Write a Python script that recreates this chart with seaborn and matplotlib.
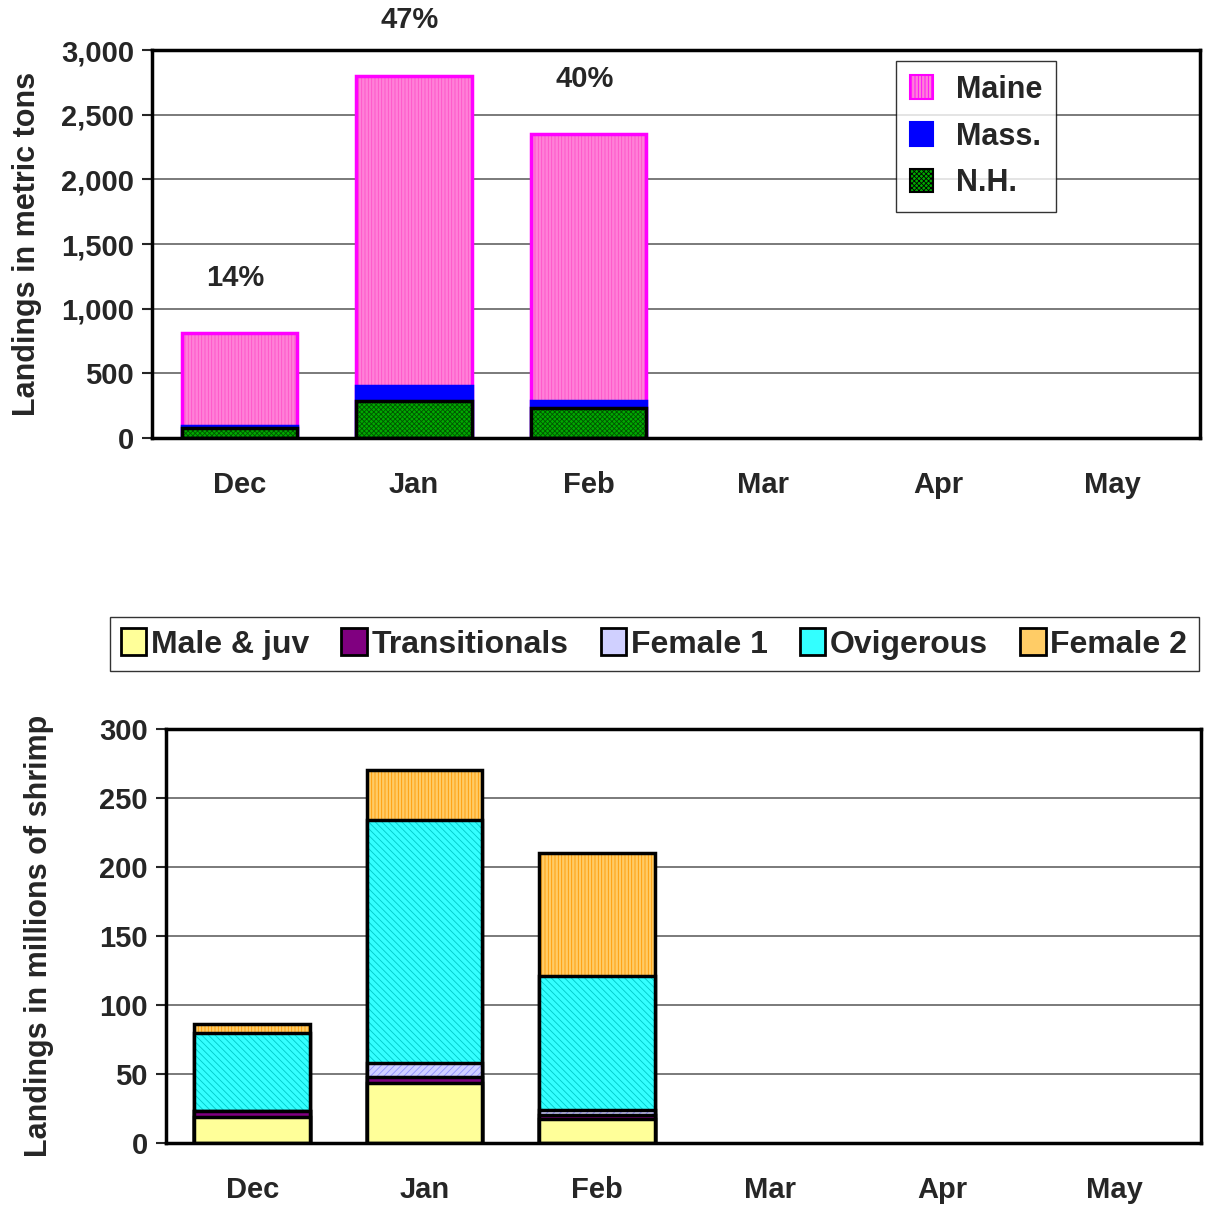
import numpy as np
import matplotlib
matplotlib.use('Agg')
import matplotlib.pyplot as plt
from matplotlib.patches import Patch
from matplotlib.ticker import StrMethodFormatter
import seaborn as sns

months = ['Dec', 'Jan', 'Feb', 'Mar', 'Apr', 'May']
landed = ['Dec', 'Jan', 'Feb']

# landings by state (metric tons), bottom to top of each stack
nh = [75, 290, 230]
mass = [20, 110, 60]
maine = [715, 2400, 2060]
state_names = ['N.H.', 'Mass.', 'Maine']
pct_labels = ['14%', '47%', '40%']

# landings by stage (millions of shrimp), bottom to top
male_juv = [19, 43.5, 17.5]
transitionals = [4, 4.5, 3]
female1 = [0.5, 10, 3.5]
ovigerous = [56, 176, 97]
female2 = [6.5, 36, 89]
stage_names = ['Male & juv', 'Transitionals', 'Female 1', 'Ovigerous', 'Female 2']

# (face, hatch colour, hatch, outline)
state_styles = [('#00AA00', '#005500', 'xxxxxxx', 'black'),
                ('#0000FF', '#0000FF', None, '#0000FF'),
                ('#FF80D8', '#FF50C8', '|||||', '#FF00FF')]
stage_styles = [('#FFFF99', '#FFFF99', None, 'black'),
                ('#800080', '#800080', None, 'black'),
                ('#D0D0FF', '#9090FF', '/////', 'black'),
                ('#33FFFF', '#00C8C8', '\\\\\\\\\\', 'black'),
                ('#FFCC66', '#FF9900', '|||||', 'black')]

sns.set_style('white')
plt.rcParams['font.family'] = ['Liberation Sans', 'DejaVu Sans']
plt.rcParams['font.weight'] = 'bold'
plt.rcParams['hatch.linewidth'] = 0.6


def stacked(ax, series, styles, width):
    tops = np.cumsum(np.array(series, dtype=float), axis=0)
    for i in reversed(range(len(series))):
        face, hcol, hatch, edge = styles[i]
        sns.barplot(x=landed, y=tops[i], order=months, color=face, saturation=1,
                    width=width, errorbar=None, hatch=hatch, edgecolor=hcol,
                    linewidth=0, ax=ax)
        sns.barplot(x=landed, y=tops[i], order=months, color=edge, fill=False,
                    saturation=1, width=width, errorbar=None, linewidth=2.5, ax=ax)
    return tops[-1]


def style_axes(ax, ylabel, step, top, label_x):
    ax.set_ylim(0, top)
    ax.set_xlim(-0.5, 5.5)
    ax.set_yticks(np.arange(0, top + 1, step))
    ax.yaxis.grid(True, color='#707070', linewidth=1.3)
    ax.set_axisbelow(True)
    for s in ax.spines.values():
        s.set_visible(True)
        s.set_color('black')
        s.set_linewidth(2.5)
    ax.tick_params(axis='y', labelsize=21, length=7, width=1.5, direction='out',
                   left=True, pad=6)
    ax.tick_params(axis='x', labelsize=21, length=0, pad=24)
    ax.set_xlabel('')
    ax.set_ylabel(ylabel, fontsize=22, fontweight='bold')
    ax.yaxis.set_label_coords(label_x, 0.5)


fig = plt.figure(figsize=(12.06, 12.07), dpi=100)
ax1 = fig.add_axes([0.126, 0.637, 0.869, 0.3215])
ax2 = fig.add_axes([0.1376, 0.053, 0.858, 0.343])

totals = stacked(ax1, [nh, mass, maine], state_styles, 0.66)
style_axes(ax1, 'Landings in metric tons', 500, 3000, -0.105)
ax1.yaxis.set_major_formatter(StrMethodFormatter('{x:,.0f}'))
for i, (t, lab) in enumerate(zip(totals, pct_labels)):
    ax1.annotate(lab, xy=(i, t), xytext=(-3, 40), textcoords='offset points',
                 ha='center', va='center', fontsize=21, fontweight='bold',
                 annotation_clip=False)

h1 = [Patch(facecolor=f, edgecolor=e, hatch=h, linewidth=1.5)
      for f, hc, h, e in state_styles][::-1]
leg1 = ax1.legend(h1, state_names[::-1], loc='upper right',
                  bbox_to_anchor=(0.8626, 0.972), fontsize=22, frameon=True,
                  fancybox=False, edgecolor='black', handlelength=0.75,
                  handleheight=0.8, handletextpad=0.75, labelspacing=0.55,
                  borderpad=0.45, borderaxespad=0)
leg1.get_frame().set_linewidth(1.0)

stacked(ax2, [male_juv, transitionals, female1, ovigerous, female2], stage_styles, 0.67)
style_axes(ax2, 'Landings in millions of shrimp', 50, 300, -0.108)

h2 = [Patch(facecolor=f, edgecolor='black', linewidth=2) for f, hc, h, e in stage_styles]
leg2 = fig.legend(h2, stage_names, loc='center', bbox_to_anchor=(0.5423, 0.4665),
                  ncol=5, fontsize=23, frameon=True, fancybox=False,
                  edgecolor='black', handlelength=0.8, handleheight=0.9,
                  handletextpad=0.15, columnspacing=1.0, borderpad=0.35)
leg2.get_frame().set_linewidth(1.0)

fig.savefig('out.png', dpi=100)
